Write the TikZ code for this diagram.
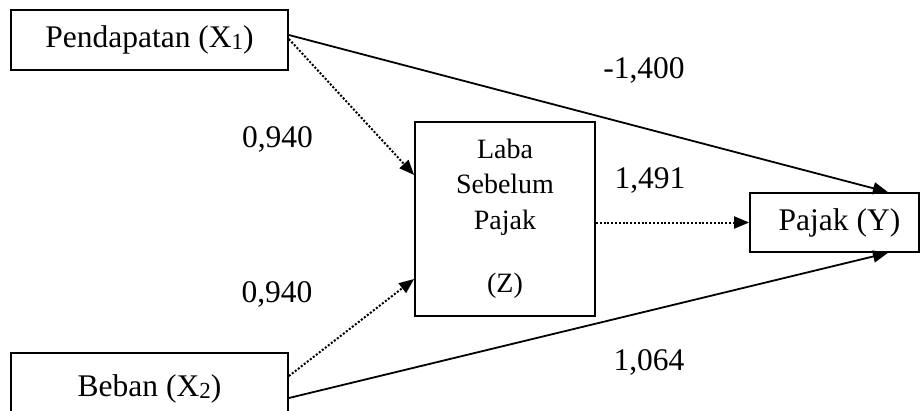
\documentclass[tikz,border=0pt]{standalone}
\usepackage{fontspec}
\setmainfont{Liberation Serif}
\usetikzlibrary{arrows.meta}
\newcommand{\smallsub}[1]{\raisebox{-1.5pt}{\fontsize{23}{23}\selectfont #1}}
\begin{document}
\begin{tikzpicture}[x=1pt,y=-1pt,
  box/.style={draw, line width=1.8pt, inner sep=0pt, font=\fontsize{31.5}{37}\selectfont},
  lbl/.style={font=\fontsize{31.5}{37}\selectfont, anchor=base, inner sep=0pt},
  conn/.style={line width=1.8pt, -{Triangle[length=15pt,width=12pt]}},
  dotconn/.style={conn, line width=2pt, dash pattern=on 2pt off 1.8pt}]
\useasboundingbox (0,0) rectangle (920,410);
\node[box, minimum width=277pt, minimum height=60pt] (X1) at (149.5,40) {Pendapatan (X\smallsub{1})};
\node[box, minimum width=277pt, minimum height=72pt] (X2) at (149.5,389) {Beban (X\smallsub{2})};
\node[box, minimum width=180pt, minimum height=194pt, align=center,
      font=\fontsize{28}{35.5}\selectfont] (Z) at (505,219) {Laba\\Sebelum\\Pajak\\[28pt](Z)};
\node[box, minimum width=169pt, minimum height=59pt] (Y) at (834.5,222.5) {\hspace*{10pt}Pajak (Y)};
\draw[conn] ([yshift=5pt]X1.east) -- ([xshift=-32pt]Y.north east);
\draw[dotconn] ([yshift=1pt]X1.east) -- ([yshift=44pt]Z.west);
\draw[dotconn] ([yshift=13pt]X2.east) -- ([yshift=-60pt]Z.west);
\draw[conn] ([yshift=-9pt]X2.east) -- ([xshift=-32pt]Y.south east);
\draw[dotconn] (Z.east |- Y.west) -- (Y.west);
\node[lbl] (l1) at (644,78) {-1,400};
\node[lbl] (l2) at (277.5,147) {0,940};
\node[lbl] (l3) at (650,188) {1,491};
\node[lbl] (l4) at (277,302) {0,940};
\node[lbl] (l5) at (649,370) {1,064};
\end{tikzpicture}
\end{document}
